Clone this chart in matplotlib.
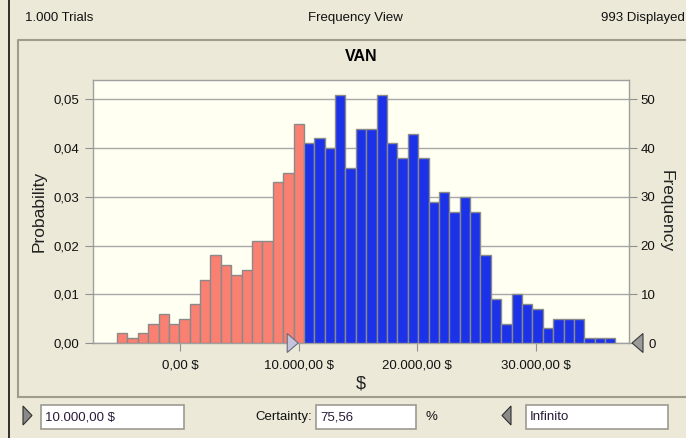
import matplotlib
matplotlib.use("Agg")
import matplotlib.pyplot as plt
import numpy as np
from matplotlib.patches import Rectangle, Polygon
from matplotlib.lines import Line2D
from matplotlib.ticker import FuncFormatter, MultipleLocator

# histogram data (VAN, 993 displayed of 1.000 trials)
bin_start = -5360.0
bin_width = 877.0
counts = [2, 1, 2, 4, 6, 4, 5, 8, 13, 18, 16, 14, 15, 21, 21, 33, 35, 45,
          41, 42, 40, 51, 36, 44, 44, 51, 41, 38, 43, 38, 29, 31, 27, 30,
          27, 18, 9, 4, 10, 8, 7, 3, 5, 5, 5, 1, 1, 1]
certainty_low = 10000.0
x_ticks = [0, 10000, 20000, 30000]
freq_ticks = [0, 10, 20, 30, 40, 50]
n_trials = 1000

W, H = 686, 438
BG = "#ECE9D8"
PLOT_BG = "#FFFFF2"
RED = "#FA8072"
BLUE = "#1C32E8"
GRID = "#A8A8A8"
FONT = "Liberation Sans"
plt.rcParams["font.family"] = [FONT, "DejaVu Sans"]


def fx(x):
    return x / W


def fy(y):
    return 1 - y / H


def es_num(v, dec):
    s = f"{v:,.{dec}f}"
    return s.replace(",", "X").replace(".", ",").replace("X", ".")


fig = plt.figure(figsize=(W / 100, H / 100), dpi=100)
fig.patch.set_facecolor(BG)

ax = fig.add_axes([fx(93), fy(343), fx(629) - fx(93), fy(80) - fy(343)])
ax.set_facecolor(PLOT_BG)
ax2 = ax.twinx()

edges = bin_start + bin_width * np.arange(len(counts))
colors = [RED if e < certainty_low else BLUE for e in edges]
ax.bar(edges, counts, width=bin_width, align="edge", color=colors,
       edgecolor="#8A8A8A", linewidth=1.0, zorder=3)

ax.set_xlim(-7390, 37880)
ax.set_ylim(0, 54)
ax.set_yticks(freq_ticks)
ax.set_xticks(x_ticks)
ax.xaxis.set_major_formatter(FuncFormatter(lambda v, p: es_num(v, 2) + " $"))
ax.yaxis.grid(True, color=GRID, linewidth=1.0, zorder=1)
ax.set_axisbelow(True)
ax.yaxis.tick_right()
ax.tick_params(axis="both", direction="out", length=6, color="#909090",
               labelsize=9.5, labelcolor="#111111", pad=4)
ax.tick_params(axis="y", pad=13)
ax.tick_params(axis="x", pad=6)
plt.setp(ax.get_yticklabels(), ha="right")
ax.set_xlabel("$", fontsize=13, labelpad=3, color="#222222")
for s in ax.spines.values():
    s.set_color("#A0A0A0")
    s.set_linewidth(1.0)
fig.text(fx(666), fy(211), "Frequency", fontsize=12.5, rotation=-90,
         ha="center", va="center", color="#222222")

ax2.set_ylim(0, 54 / n_trials)
ax2.yaxis.set_major_locator(MultipleLocator(0.01))
ax2.yaxis.tick_left()
ax2.yaxis.set_label_position("left")
ax2.yaxis.set_major_formatter(FuncFormatter(lambda v, p: es_num(v, 2)))
ax2.tick_params(axis="y", direction="out", length=6, color="#909090",
                labelsize=9.5, labelcolor="#111111", pad=4)
ax2.set_ylabel("Probability", fontsize=12.5, labelpad=5, color="#222222")
for s in ax2.spines.values():
    s.set_visible(False)

ax.set_title("VAN", fontsize=11.5, fontweight="bold", pad=14)

# certainty markers on the axis
fig.canvas.draw()
to_fig = fig.transFigure.inverted()
px_low = ax.transData.transform((certainty_low, 0))
tip = to_fig.transform(px_low)
tri_w, tri_h = 11 / W, 9.5 / H
fig.add_artist(Polygon([(tip[0] - 0.001, tip[1]),
                        (tip[0] - 0.001 - tri_w, tip[1] + tri_h),
                        (tip[0] - 0.001 - tri_w, tip[1] - tri_h)],
                       closed=True, facecolor="#C4C4DC", edgecolor="#6A6A7A",
                       linewidth=0.8, transform=fig.transFigure, zorder=10))
fig.add_artist(Polygon([(fx(632), fy(343)), (fx(643), fy(333.5)),
                        (fx(643), fy(352.5))], closed=True,
                       facecolor="#9A9A9A", edgecolor="#3A3A3A",
                       linewidth=0.8, transform=fig.transFigure, zorder=10))

# window frame
fig.add_artist(Line2D([fx(9), fx(9)], [0, 1], color="#202020", linewidth=1.3,
                      transform=fig.transFigure))
fig.add_artist(Line2D([fx(18), fx(18), fx(690)], [fy(397), fy(40), fy(40)],
                      color="#A09C8C", linewidth=1.5,
                      transform=fig.transFigure))
fig.add_artist(Line2D([fx(18), fx(690)], [fy(397), fy(397)],
                      color="#A09C8C", linewidth=1.5,
                      transform=fig.transFigure))

# header
fig.text(fx(25), fy(18), "1.000 Trials", fontsize=9.5, va="center",
         ha="left", color="#111111")
fig.text(fx(355), fy(18), "Frequency View", fontsize=9.5, va="center",
         ha="center", color="#111111")
fig.text(fx(685), fy(18), "993 Displayed", fontsize=9.5, va="center",
         ha="right", color="#111111")

# bottom controls
def text_box(x0, x1, label):
    fig.add_artist(Rectangle((fx(x0), fy(429)), fx(x1) - fx(x0),
                             fy(405) - fy(429), facecolor="white",
                             edgecolor="#9C9A90", linewidth=1.2,
                             transform=fig.transFigure))
    fig.text(fx(x0 + 4), fy(417), label, fontsize=9.5, va="center",
             ha="left", color="#2A1A3A")


fig.add_artist(Polygon([(fx(32), fy(415.5)), (fx(23), fy(406)),
                        (fx(23), fy(425))], closed=True,
                       facecolor="#8A8A8A", edgecolor="#303030",
                       linewidth=0.8, transform=fig.transFigure))
text_box(41, 184, es_num(certainty_low, 2) + " $")
fig.text(fx(312), fy(417), "Certainty:", fontsize=9.5, va="center",
         ha="right", color="#111111")
text_box(316, 416, "75,56")
fig.text(fx(426), fy(417), "%", fontsize=9.5, va="center", ha="left",
         color="#111111")
fig.add_artist(Polygon([(fx(502), fy(415.5)), (fx(511), fy(406)),
                        (fx(511), fy(425))], closed=True,
                       facecolor="#8A8A8A", edgecolor="#303030",
                       linewidth=0.8, transform=fig.transFigure))
text_box(526, 668, "Infinito")

fig.savefig("out.png", dpi=100, facecolor=BG)
